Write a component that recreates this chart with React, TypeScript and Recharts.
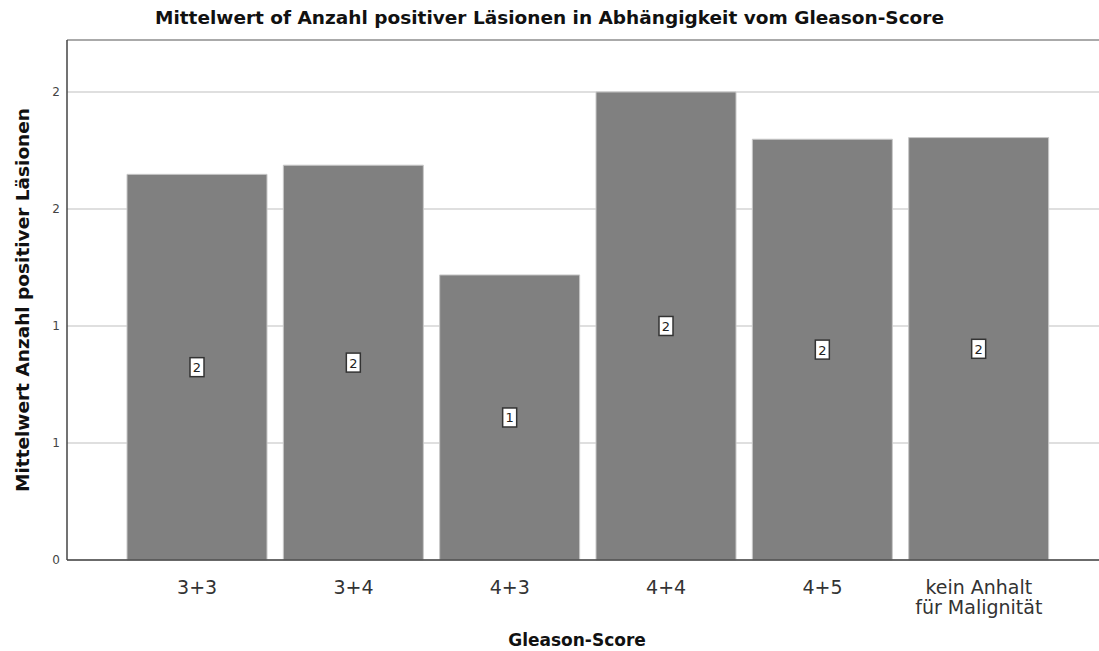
import React from "react";
import {
	Bar,
	BarChart,
	CartesianGrid,
	LabelList,
	ReferenceLine,
	XAxis,
	YAxis,
} from "recharts";

const categories = ["3+3", "3+4", "4+3", "4+4", "4+5", "kein Anhalt\nfür Malignität"];
const meanValues = [1.648, 1.687, 1.218, 2.0, 1.798, 1.805];
const yTicks = [0, 0.5, 1, 1.5, 2];
const yMax = 2.222;

const data = categories.map((name, i) => ({ name, value: meanValues[i] }));

const FONT = "'DejaVu Sans', sans-serif";

// multi-line category tick
const CategoryTick = (props: any) => {
	const { x, y, payload } = props;
	const lines = String(payload.value).split("\n");
	return (
		<text x={x} y={y} textAnchor="middle" fontFamily={FONT} fontSize={19} fill="#333">
			{lines.map((l, i) => (
				<tspan key={i} x={x} dy={i === 0 ? 26 : 20}>
					{l}
				</tspan>
			))}
		</text>
	);
};

// boxed value label in the middle of the bar
const BoxLabel = (props: any) => {
	const { x, y, width, height, value } = props;
	const cx = x + width / 2;
	const cy = y + height / 2;
	return (
		<g>
			<rect x={cx - 7} y={cy - 9.5} width={14} height={19} fill="#fff" stroke="#333" strokeWidth={1.5} />
			<text x={cx} y={cy + 5} textAnchor="middle" fontFamily={FONT} fontSize={13} fill="#222">
				{Math.round(value)}
			</text>
		</g>
	);
};

const YTitle = (props: any) => {
	const { viewBox } = props;
	const cy = viewBox.y + viewBox.height / 2;
	return (
		<text
			x={22}
			y={cy}
			transform={`rotate(-90 22 ${cy})`}
			textAnchor="middle"
			dominantBaseline="central"
			fontFamily={FONT}
			fontWeight="bold"
			fontSize={18.5}
			fill="#111"
		>
			Mittelwert Anzahl positiver Läsionen
		</text>
	);
};

const XTitle = (props: any) => {
	const { viewBox } = props;
	const cx = viewBox.x + viewBox.width / 2;
	return (
		<text x={cx - 6} y={646} textAnchor="middle" fontFamily={FONT} fontWeight="bold" fontSize={17} fill="#111">
			Gleason-Score
		</text>
	);
};

const App: React.FC = () => {
	return (
		<div style={{ position: "relative", width: 1099, height: 651, fontFamily: FONT }}>
			<style>{"body{margin:0}"}</style>
			<div
				style={{
					position: "absolute",
					top: 7,
					left: 0,
					width: 1099,
					textAlign: "center",
					fontWeight: "bold",
					fontSize: 18.5,
					color: "#111",
				}}
			>
				Mittelwert of Anzahl positiver Läsionen in Abhängigkeit vom Gleason-Score
			</div>
			<BarChart
				width={1099}
				height={651}
				data={data}
				margin={{ top: 40, right: 0, bottom: 0, left: 0 }}
				barCategoryGap={8}
			>
				<CartesianGrid vertical={false} stroke="#d4d4d4" strokeWidth={1.5} />
				<ReferenceLine y={yMax} stroke="#999" strokeWidth={1.5} />
				<XAxis
					dataKey="name"
					height={91}
					interval={0}
					tick={<CategoryTick />}
					tickLine={false}
					axisLine={{ stroke: "#444", strokeWidth: 1.5 }}
					padding={{ left: 52, right: 42 }}
					label={<XTitle />}
				/>
				<YAxis
					width={67}
					domain={[0, yMax]}
					ticks={yTicks}
					tickFormatter={(v: number) => String(Math.round(v))}
					tickLine={false}
					axisLine={{ stroke: "#444", strokeWidth: 1.5 }}
					tick={{ fontSize: 12, fill: "#444", fontFamily: FONT }}
					tickMargin={1}
					label={<YTitle />}
				/>
				<Bar dataKey="value" fill="#808080" stroke="#c8c8c8" strokeWidth={1} isAnimationActive={false}>
					<LabelList dataKey="value" content={<BoxLabel />} />
				</Bar>
			</BarChart>
		</div>
	);
};

export default App;
